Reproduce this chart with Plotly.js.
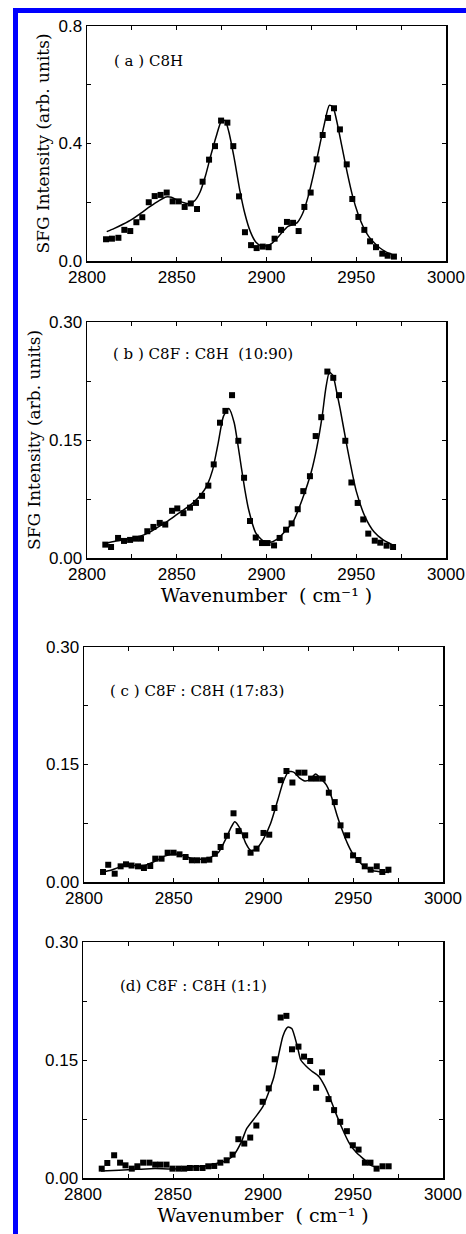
<!DOCTYPE html>
<html>
<head>
<meta charset="utf-8">
<script src="https://cdn.plot.ly/plotly-3.0.1.min.js"></script>
<style>
html,body{margin:0;padding:0;background:#fff;}
#chart{width:466px;height:1234px;}
</style>
</head>
<body>
<div id="chart"></div>
<script>
// ---- Panel (a) C8H ----
const xA = [2810.6,2813.9,2817.5,2820.8,2824.1,2827.5,2830.8,2834.4,2837.7,2841.0,2844.4,2847.7,2851.1,2854.4,2857.8,2861.3,2864.4,2868.0,2871.3,2874.7,2878.2,2881.5,2884.7,2888.0,2891.4,2894.5,2897.9,2901.2,2904.5,2908.1,2911.4,2914.8,2917.9,2921.1,2924.6,2927.9,2931.3,2934.3,2937.6,2940.9,2944.7,2947.8,2951.2,2954.5,2957.7,2961.0,2964.5,2967.5,2971.0];
const yA = [0.074,0.076,0.079,0.106,0.102,0.132,0.149,0.200,0.221,0.225,0.233,0.203,0.203,0.184,0.196,0.177,0.270,0.345,0.391,0.478,0.471,0.391,0.220,0.098,0.054,0.044,0.049,0.047,0.076,0.106,0.133,0.130,0.102,0.184,0.233,0.346,0.429,0.487,0.520,0.448,0.329,0.211,0.150,0.106,0.067,0.047,0.025,0.018,0.015];
const fitXA = [2811,2815,2820,2825,2830,2835,2840,2844,2847,2850,2854,2857,2860,2863,2866,2869,2872,2875,2877,2879,2882,2885,2888,2891,2894,2897,2900,2903,2906,2909,2912,2915,2917,2920,2923,2926,2929,2932,2935,2937,2939,2942,2945,2948,2951,2954,2957,2960,2963,2966,2970];
const fitYA = [0.100,0.110,0.125,0.142,0.163,0.185,0.205,0.218,0.217,0.208,0.198,0.195,0.205,0.235,0.290,0.360,0.425,0.478,0.478,0.440,0.350,0.245,0.160,0.100,0.065,0.052,0.052,0.060,0.078,0.100,0.118,0.125,0.130,0.160,0.215,0.290,0.375,0.460,0.530,0.525,0.480,0.390,0.300,0.220,0.160,0.115,0.083,0.062,0.045,0.033,0.022];

// ---- Panel (b) C8F : C8H (10:90) ----
const xB = [2810.2,2813.4,2817.3,2820.6,2824.0,2826.9,2830.1,2833.6,2837.0,2840.5,2843.6,2847.4,2850.3,2853.7,2857.4,2860.7,2864.1,2867.6,2870.6,2874.1,2877.1,2880.8,2884.3,2887.5,2890.8,2894.0,2897.5,2900.6,2904.2,2907.3,2910.9,2914.0,2917.4,2920.5,2924.2,2927.4,2930.5,2933.9,2937.2,2940.4,2943.9,2947.3,2950.8,2953.9,2956.7,2960.3,2963.4,2966.9,2970.5];
const yB = [0.017,0.014,0.0255,0.0217,0.023,0.0246,0.0246,0.034,0.0395,0.0446,0.0425,0.060,0.063,0.057,0.064,0.070,0.079,0.092,0.119,0.172,0.187,0.207,0.149,0.102,0.047,0.026,0.019,0.019,0.016,0.0255,0.036,0.044,0.062,0.085,0.104,0.155,0.179,0.237,0.229,0.207,0.149,0.096,0.070,0.049,0.031,0.022,0.0195,0.0157,0.014];
const fitXB = [2809,2815,2820,2825,2830,2835,2840,2845,2850,2855,2860,2864,2867,2870,2873,2876,2879,2882,2884,2886,2888,2890,2894,2898,2902,2906,2910,2915,2920,2925,2928,2931,2933,2935,2937,2939,2941,2945,2950,2955,2960,2965,2970];
const fitYB = [0.018,0.021,0.023,0.025,0.028,0.033,0.040,0.047,0.055,0.063,0.072,0.082,0.093,0.112,0.145,0.180,0.190,0.172,0.145,0.115,0.086,0.062,0.032,0.022,0.020,0.024,0.033,0.047,0.075,0.110,0.140,0.180,0.215,0.236,0.232,0.212,0.190,0.140,0.085,0.052,0.033,0.023,0.017];

// ---- Panel (c) C8F : C8H (17:83) ----
const xC = [2810.6,2813.5,2817.1,2820.4,2823.4,2826.5,2830.1,2833.4,2836.9,2839.7,2843.2,2846.6,2849.9,2853.2,2856.6,2860.1,2863.1,2866.8,2869.8,2872.9,2876.1,2879.6,2883.3,2886.1,2889.8,2892.8,2896.1,2900.0,2903.2,2906.1,2909.6,2912.8,2916.1,2919.5,2922.8,2926.5,2929.7,2933.0,2936.4,2939.7,2942.9,2946.6,2949.9,2952.9,2956.4,2959.7,2963.1,2966.2,2969.6];
const yC = [0.0128,0.022,0.0106,0.020,0.0226,0.021,0.020,0.0179,0.0204,0.0298,0.0298,0.0374,0.0374,0.0353,0.0319,0.0277,0.0277,0.0277,0.0285,0.036,0.0447,0.059,0.0877,0.065,0.0596,0.0374,0.0426,0.0626,0.0604,0.0945,0.130,0.1417,0.127,0.1396,0.1396,0.132,0.132,0.132,0.114,0.102,0.0723,0.0596,0.034,0.0281,0.020,0.0157,0.020,0.0128,0.0157];
const fitXC = [2811,2815,2820,2825,2830,2835,2840,2845,2850,2855,2860,2865,2870,2875,2879,2882,2884,2887,2890,2893,2896,2900,2904,2908,2911,2914,2917,2920,2923,2926,2929,2932,2935,2938,2941,2944,2947,2950,2955,2960,2965,2970];
const fitYC = [0.013,0.015,0.019,0.021,0.021,0.022,0.027,0.033,0.036,0.034,0.030,0.029,0.031,0.038,0.055,0.070,0.077,0.068,0.050,0.040,0.042,0.055,0.075,0.105,0.128,0.141,0.140,0.133,0.129,0.131,0.138,0.132,0.124,0.108,0.085,0.065,0.048,0.035,0.022,0.015,0.013,0.012];

// ---- Panel (d) C8F : C8H (1:1) ----
const xD = [2810.4,2813.5,2817.3,2820.6,2823.6,2827.1,2830.2,2833.4,2836.9,2840.1,2843.0,2846.4,2849.7,2853.1,2856.2,2859.4,2862.9,2866.4,2869.6,2872.9,2876.3,2879.8,2883.1,2886.3,2889.6,2892.9,2896.3,2899.8,2903.2,2906.5,2909.8,2913.0,2916.1,2919.7,2922.8,2926.2,2929.5,2932.8,2936.4,2939.5,2942.9,2946.6,2949.9,2953.1,2956.6,2959.7,2963.1,2966.4,2969.8];
const yD = [0.0119,0.0191,0.0289,0.0195,0.0161,0.0119,0.0149,0.0195,0.0195,0.017,0.017,0.017,0.0119,0.0119,0.0119,0.0127,0.0127,0.0127,0.0149,0.0153,0.0195,0.0225,0.0297,0.0493,0.0438,0.0514,0.0667,0.0969,0.1139,0.1509,0.204,0.2061,0.1636,0.167,0.1543,0.1487,0.1147,0.1343,0.1003,0.0863,0.0714,0.0595,0.0416,0.0361,0.0195,0.0195,0.0119,0.0149,0.0149];
const fitXD = [2810,2820,2830,2840,2850,2860,2870,2875,2880,2884,2888,2891,2896,2900,2903,2906,2909,2911,2913,2914,2916,2919,2921,2924,2927,2931,2934,2937,2940,2944,2948,2952,2956,2960,2964];
const fitYD = [0.009,0.010,0.011,0.012,0.0115,0.014,0.016,0.019,0.0225,0.030,0.046,0.063,0.078,0.091,0.108,0.128,0.160,0.180,0.190,0.192,0.190,0.168,0.150,0.142,0.136,0.129,0.118,0.103,0.085,0.063,0.044,0.032,0.024,0.016,0.013];

const labels = ["( a ) C8H", "( b ) C8F : C8H  (10:90)", "( c ) C8F : C8H (17:83)", "(d) C8F : C8H (1:1)"];
const yMaxA = 0.8, yMaxB = 0.30;
const yTitle = "SFG Intensity (arb. units)";
const xTitle = "Wavenumber  ( cm\u207B\u00B9 )";

const W = 466, H = 1234;
const serif = "DejaVu Serif, Liberation Serif, serif";
const sans = "Liberation Sans, Arial, sans-serif";

function px(x){return x/W;}
function py(y){return 1 - y/H;}

const sets = [[xA,yA,fitXA,fitYA],[xB,yB,fitXB,fitYB],[xC,yC,fitXC,fitYC],[xD,yD,fitXD,fitYD]];
const traces = [];
sets.forEach((s,i)=>{
  const sfx = i===0 ? "" : String(i+1);
  traces.push({x:s[2], y:s[3], type:"scatter", mode:"lines", line:{color:"#000", width:1.5, shape:"spline", smoothing:0.6}, xaxis:"x"+sfx, yaxis:"y"+sfx, hoverinfo:"skip", showlegend:false});
  traces.push({x:s[0], y:s[1], type:"scatter", mode:"markers", marker:{symbol:"square", size:6, color:"#000"}, xaxis:"x"+sfx, yaxis:"y"+sfx, showlegend:false});
});

// panel geometry in pixels: [left, right, top, bottom]
const geo = [[87,446,26,261],[87,446,322,558],[84,443,647,882],[83,443,942,1178]];

const layout = {
  width: W, height: H,
  margin:{l:0,r:0,t:0,b:0},
  paper_bgcolor:"#fff", plot_bgcolor:"#fff",
  showlegend:false,
  font:{family:sans, color:"#000", size:17},
  annotations:[], shapes:[]
};

geo.forEach((g,i)=>{
  const sfx = i===0 ? "" : String(i+1);
  const xa = {
    domain:[px(g[0]), px(g[1])], anchor:"y"+sfx, range:[2800,3000],
    tickmode:"linear", tick0:2800, dtick:50,
    ticks:"inside", ticklen:4, tickwidth:1, tickcolor:"#000",
    minor:{ticks:"inside", ticklen:4, tickwidth:1, tickcolor:"#000", tick0:2800, dtick:25, showgrid:false},
    showline:true, linecolor:"#000", linewidth:1.5, mirror:"ticks",
    showgrid:false, zeroline:false, automargin:false,
    ticklabeloverflow:"allow",
    tickfont:{family:sans, size:17, color:"#000"}
  };
  if(i===1 || i===3){
    xa.title = {text:xTitle, font:{family:serif, size:19, color:"#000"}, standoff:4};
  }
  const ymax = i===0 ? yMaxA : yMaxB;
  const ya = {
    domain:[py(g[3]), py(g[2])], anchor:"x"+sfx,
    range:[0, ymax],
    tickmode:"linear", tick0:0, dtick: ymax/2,
    tickformat: i===0 ? ".1f" : ".2f",
    ticks:"inside", ticklen:4, tickwidth:1, tickcolor:"#000",
    minor:{ticks:"inside", ticklen:4, tickwidth:1, tickcolor:"#000", tick0:0, dtick: ymax/4, showgrid:false},
    showline:true, linecolor:"#000", linewidth:1.5, mirror:"ticks",
    showgrid:false, zeroline:false, automargin:false,
    ticklabeloverflow:"allow",
    tickfont:{family:sans, size:17, color:"#000"}
  };
  if(i<2){
    ya.title = {text:yTitle, font:{family:serif, size:17, color:"#000"}, standoff:4};
  }
  layout["xaxis"+sfx] = xa;
  layout["yaxis"+sfx] = ya;
});

const annPos = [[112,61],[111,354],[108,691],[118,986]];
labels.forEach((t,i)=>{
  layout.annotations.push({text:t, xref:"paper", yref:"paper", x:px(annPos[i][0]), y:py(annPos[i][1]), xanchor:"left", yanchor:"middle", showarrow:false, font:{family:serif, size:15, color:"#000"}});
});

// blue frame on left and top edges
layout.shapes.push({type:"rect", xref:"paper", yref:"paper", x0:px(13), x1:px(18), y0:0, y1:py(8), fillcolor:"#0000ff", line:{width:0}});
layout.shapes.push({type:"rect", xref:"paper", yref:"paper", x0:px(13), x1:1, y0:py(13), y1:py(8), fillcolor:"#0000ff", line:{width:0}});

Plotly.newPlot("chart", traces, layout, {staticPlot:true});
</script>
</body>
</html>
